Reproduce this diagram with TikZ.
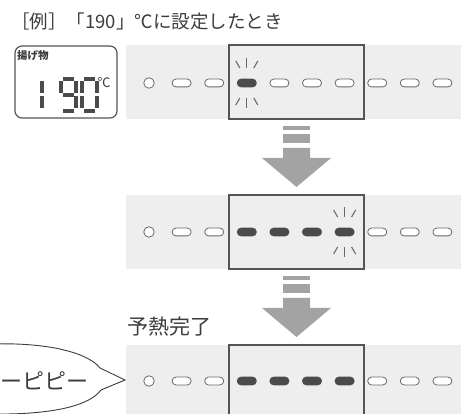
\documentclass[tikz,border=0pt]{standalone}
\usepackage{fontspec}
\setmainfont{Noto Sans CJK JP}
\usetikzlibrary{positioning,calc}
\definecolor{lcdFrame}{RGB}{85,85,85}
\definecolor{bandGray}{RGB}{238,238,238}
\definecolor{lampOn}{RGB}{75,75,75}
\definecolor{lampEdge}{RGB}{105,105,105}
\definecolor{arrowGray}{RGB}{163,163,163}
\definecolor{textGray}{RGB}{60,60,60}

\begin{document}
\begin{tikzpicture}[
    x=1pt, y=-1pt,
    band/.style={fill=bandGray},
    frame/.style={draw=lcdFrame, line width=1.8pt},
    lamp off/.style={draw=lampEdge, fill=white, line width=0.8pt, rounded corners=3.8pt, minimum width=19pt, minimum height=7.8pt, inner sep=0pt},
    lamp on/.style={lamp off, draw=lampOn, fill=lampOn},
    lamp dot/.style={circle, draw=lampEdge, fill=white, line width=0.8pt, minimum size=10.5pt, inner sep=0pt},
    blink tick/.style={draw=lampEdge, line width=1.1pt},
    big arrow/.style={fill=arrowGray},
    lcd seg/.style={draw=lampOn, line width=4pt},
    label text/.style={text=textGray, inner sep=0pt}
]
  \useasboundingbox (0,0) rectangle (461,414);
  \clip (0,0) rectangle (461,414);

  % heading
  \node[label text, anchor=west, font=\fontsize{18.5}{21}\selectfont] (title) at (11,21) {［例］「190」℃に設定したとき};

  % temperature display
  \draw[draw=lcdFrame, fill=white, line width=1.2pt, rounded corners=7pt] (15,46) rectangle (117,118);
  \node[label text, anchor=west, font=\fontsize{10.5}{12}\selectfont\bfseries] (kind) at (17,56) {揚げ物};
  \node[label text, font=\fontsize{13}{14}\selectfont] (unit) at (104,83) {℃};
  \foreach \sx/\sy/\ex/\ey in {41.5/81.5/41.5/93.5, 41.5/96.5/41.5/108.5}
    \draw[lcd seg] (\sx,\sy) -- (\ex,\ey);
  \begin{scope}[shift={(59,77)}] % 9
    \foreach \sx/\sy/\ex/\ey in {4/2/15/2, 17/4.5/17/16.5, 17/19.5/17/31.5, 4/34/15/34, 2/4.5/2/16.5, 4/18/15/18}
      \draw[lcd seg] (\sx,\sy) -- (\ex,\ey);
  \end{scope}
  \begin{scope}[shift={(80,77)}] % 0
    \foreach \sx/\sy/\ex/\ey in {4/2/15/2, 17/4.5/17/16.5, 17/19.5/17/31.5, 4/34/15/34, 2/4.5/2/16.5, 2/19.5/2/31.5}
      \draw[lcd seg] (\sx,\sy) -- (\ex,\ey);
  \end{scope}

  % lamp rows
  \foreach \by in {45,195,345} {
    \fill[band] (126,\by) rectangle (461,\by+74);
    \draw[frame] (229,\by) rectangle (364,\by+74);
  }
  \foreach \r/\ly/\offs/\ons in {1/83/{1,2,4,5,6,7,8,9}/{3}, 2/232/{1,2,7,8,9}/{3,4,5,6}, 3/381/{1,2,7,8,9}/{3,4,5,6}} {
    \node[lamp dot] (l\r-0) at (149,\ly) {};
    \foreach \i in \offs \node[lamp off] (l\r-\i) at (149+32.6*\i,\ly) {};
    \foreach \i in \ons \node[lamp on] (l\r-\i) at (149+32.6*\i,\ly) {};
  }
  \foreach \c in {l1-3, l2-6}
    \foreach \ax/\ay/\bx/\by in {0/-25/0/-15, -11/-22/-7/-15, 11/-22/7/-15, 0/15/0/25, -7/15/-11/22, 7/15/11/22}
      \draw[blink tick] ($(\c)+(\ax,\ay)$) -- ($(\c)+(\bx,\by)$);

  % down arrows
  \foreach \dy in {0,150} {
    \begin{scope}[shift={(0,\dy)}]
      \fill[big arrow] (283,126) rectangle (310,130);
      \fill[big arrow] (283,134) rectangle (310,143);
      \fill[big arrow] (283,148) -- (310,148) -- (310,158) -- (331,158) -- (296.5,187) -- (262,158) -- (283,158) -- cycle;
    \end{scope}
  }

  \node[label text, anchor=west, font=\fontsize{21}{23}\selectfont] (done) at (127,327) {予熱完了};

  % beep bubble
  \draw[draw=textGray, fill=white, line width=0.9pt] (-10,344) .. controls (55,342) and (90,355) .. (100,368)
    -- (125,380) -- (101,390) .. controls (90,405) and (55,415) .. (-10,414);
  \node[label text, anchor=east, font=\fontsize{22}{24}\selectfont] (beep) at (89,381) {ーピピー};
\end{tikzpicture}
\end{document}
